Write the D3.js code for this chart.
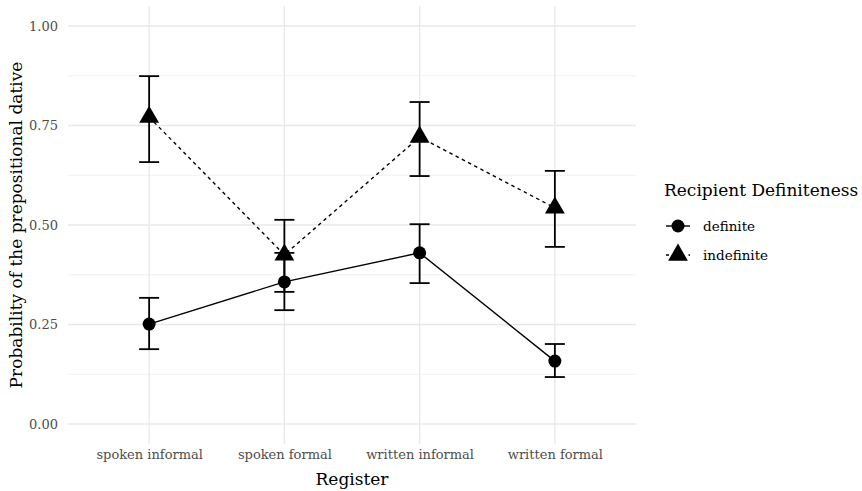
<!DOCTYPE html>
<html>
<head>
<meta charset="utf-8">
<script src="https://cdn.jsdelivr.net/npm/d3@7"></script>
<style>
  html, body { margin: 0; padding: 0; background: #fff; }
  svg text { font-family: "DejaVu Serif", serif; }
</style>
</head>
<body>
<svg id="chart" width="862" height="491"></svg>
<script>
// Registers on the x axis
const registers = ["spoken informal", "spoken formal", "written informal", "written formal"];

// Predicted probability and confidence bounds per register
const definiteFit   = [0.251, 0.357, 0.430, 0.158];
const definiteLow   = [0.188, 0.286, 0.354, 0.118];
const definiteHigh  = [0.317, 0.430, 0.502, 0.201];

const indefiniteFit  = [0.771, 0.425, 0.721, 0.543];
const indefiniteLow  = [0.658, 0.332, 0.623, 0.445];
const indefiniteHigh = [0.874, 0.513, 0.809, 0.636];

const yTicks = [0, 0.25, 0.5, 0.75, 1];
const yMinor = [0.125, 0.375, 0.625, 0.875];

const seriesNames = ["definite", "indefinite"];

const series = [
  { name: seriesNames[0], fit: definiteFit, low: definiteLow, high: definiteHigh, shape: "circle", dash: null },
  { name: seriesNames[1], fit: indefiniteFit, low: indefiniteLow, high: indefiniteHigh, shape: "triangle", dash: "3.5,3.5" }
];

const svg = d3.select("#chart");

const panel = { left: 68, right: 636, top: 6, bottom: 444 };

const x = d3.scalePoint().domain(registers).range([panel.left, panel.right]).padding(0.6);
const y = d3.scaleLinear().domain([0, 1]).range([424, 26]);

const grid = svg.append("g");
// minor horizontal gridlines
grid.selectAll("line.minor").data(yMinor).join("line")
  .attr("x1", panel.left).attr("x2", panel.right)
  .attr("y1", d => y(d)).attr("y2", d => y(d))
  .attr("stroke", "#ebebeb").attr("stroke-width", 0.7);
// major horizontal gridlines
grid.selectAll("line.majorY").data(yTicks).join("line")
  .attr("x1", panel.left).attr("x2", panel.right)
  .attr("y1", d => y(d)).attr("y2", d => y(d))
  .attr("stroke", "#e8e8e8").attr("stroke-width", 1.3);
// vertical gridlines
grid.selectAll("line.majorX").data(registers).join("line")
  .attr("x1", d => x(d)).attr("x2", d => x(d))
  .attr("y1", panel.top).attr("y2", panel.bottom)
  .attr("stroke", "#e8e8e8").attr("stroke-width", 1.3);

// axes (text only, like theme_minimal)
const yAxis = svg.append("g")
  .attr("transform", `translate(${panel.left},0)`)
  .call(d3.axisLeft(y).tickValues(yTicks).tickFormat(d3.format(".2f")).tickSize(0).tickPadding(10));
yAxis.select(".domain").remove();
yAxis.selectAll("text").attr("fill", "#4d4d4d").style("font-size", "13px");

const xAxis = svg.append("g")
  .attr("transform", `translate(0,${panel.bottom})`)
  .call(d3.axisBottom(x).tickSize(0).tickPadding(6));
xAxis.select(".domain").remove();
xAxis.selectAll("text").attr("fill", "#4d4d4d").style("font-size", "13px");

// axis titles
svg.append("text")
  .attr("x", (panel.left + panel.right) / 2).attr("y", 485)
  .attr("text-anchor", "middle").style("font-size", "17px").attr("fill", "#000")
  .text("Register");
svg.append("text")
  .attr("transform", `translate(22,${(panel.top + panel.bottom) / 2}) rotate(-90)`)
  .attr("text-anchor", "middle").style("font-size", "17px").attr("fill", "#000")
  .text("Probability of the prepositional dative");

const line = d3.line().x(d => x(d.r)).y(d => y(d.v));
const triangle = d3.symbol().type(d3.symbolTriangle).size(170);

const marks = svg.append("g");
series.forEach(s => {
  const pts = registers.map((r, i) => ({ r, v: s.fit[i], lo: s.low[i], hi: s.high[i] }));
  const g = marks.append("g");
  g.append("path").datum(pts)
    .attr("d", line).attr("fill", "none").attr("stroke", "#000").attr("stroke-width", 1.4)
    .attr("stroke-dasharray", s.dash);
  // error bars
  const eb = g.selectAll("g.eb").data(pts).join("g");
  eb.append("line")
    .attr("x1", d => x(d.r)).attr("x2", d => x(d.r))
    .attr("y1", d => y(d.lo)).attr("y2", d => y(d.hi))
    .attr("stroke", "#000").attr("stroke-width", 1.8);
  ["lo", "hi"].forEach(k => {
    eb.append("line")
      .attr("x1", d => x(d.r) - 10).attr("x2", d => x(d.r) + 10)
      .attr("y1", d => y(d[k])).attr("y2", d => y(d[k]))
      .attr("stroke", "#000").attr("stroke-width", 1.8);
  });
  // points
  if (s.shape === "circle") {
    g.selectAll("circle").data(pts).join("circle")
      .attr("cx", d => x(d.r)).attr("cy", d => y(d.v)).attr("r", 6.5).attr("fill", "#000");
  } else {
    g.selectAll("path.pt").data(pts).join("path").attr("class", "pt")
      .attr("transform", d => `translate(${x(d.r)},${y(d.v)})`)
      .attr("d", triangle).attr("fill", "#000");
  }
});

// legend
const legend = svg.append("g");
legend.append("text").attr("x", 664).attr("y", 196)
  .style("font-size", "17px").attr("fill", "#000").text("Recipient Definiteness");
series.forEach((s, i) => {
  const cy = 226 + i * 29;
  const row = legend.append("g");
  row.append("line").attr("x1", 666).attr("x2", 690).attr("y1", cy).attr("y2", cy)
    .attr("stroke", "#000").attr("stroke-width", 1.4).attr("stroke-dasharray", s.dash ? "3,4.5" : null);
  if (s.shape === "circle") {
    row.append("circle").attr("cx", 678).attr("cy", cy).attr("r", 6.5).attr("fill", "#000");
  } else {
    row.append("path").attr("transform", `translate(678,${cy})`).attr("d", triangle).attr("fill", "#000");
  }
  row.append("text").attr("x", 703).attr("y", cy + 4.5)
    .style("font-size", "13.5px").attr("fill", "#000").text(s.name);
});
</script>
</body>
</html>
